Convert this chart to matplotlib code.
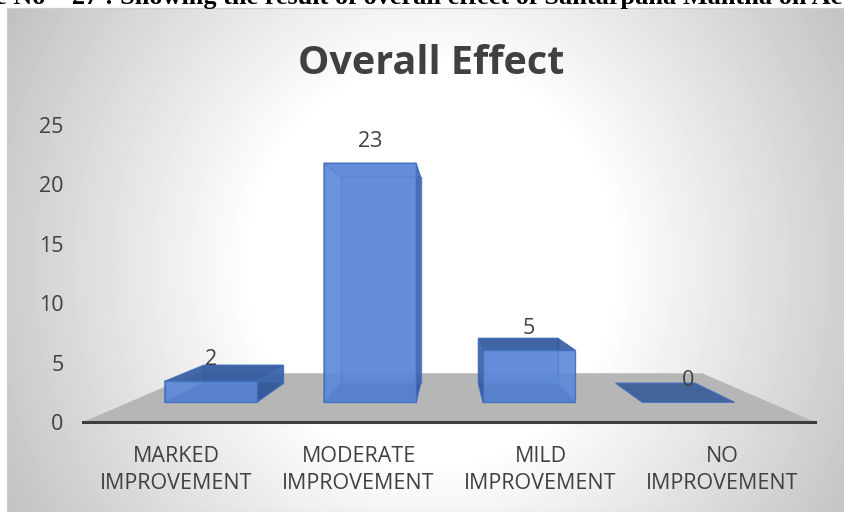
import numpy as np
import matplotlib
matplotlib.use("Agg")
import matplotlib.pyplot as plt
from matplotlib.patches import Polygon

categories = ["MARKED\nIMPROVEMENT", "MODERATE\nIMPROVEMENT", "MILD\nIMPROVEMENT", "NO\nIMPROVEMENT"]
values = [2, 23, 5, 0]
y_ticks = [0, 5, 10, 15, 20, 25]
title = "Overall Effect"
caption = "e No \u2013 27 : Showing the result of overall effect of Santarpana Mantha on Ac"

W, H = 844, 512
TEXT = "#404040"
plt.rcParams["font.family"] = ["Open Sans", "DejaVu Sans"]
fig = plt.figure(figsize=(W / 100, H / 100), dpi=100, facecolor="white")

# background panel with radial gradient
bg = fig.add_axes([7 / W, 0, 837 / W, 504 / H], zorder=0)
gy, gx = np.mgrid[8:512, 7:844]
r = np.sqrt(((gx - 432) / 520.0) ** 2 + ((gy - 265) / 560.0) ** 2)
shade = 1 - np.clip((r - 0.35) / 0.65, 0, 1) * 0.27
bg.imshow(shade, cmap="gray", vmin=0, vmax=1, aspect="auto", interpolation="bilinear")
bg.set_xticks([])
bg.set_yticks([])
for s in bg.spines.values():
    s.set_color("#cfcfcf")
    s.set_linewidth(0.9)

fig.text(431 / W, 1 - 64 / H, title, ha="center", va="center", fontsize=28.5,
         fontweight="bold", color=TEXT)
fig.text(-5 / W, 1 - 4 / H, caption, ha="left", va="baseline", fontsize=18.9,
         fontweight="bold", family=["Liberation Serif"], color="black")

ax = fig.add_axes([83 / W, (H - 422) / H, 732 / W, 297 / H], zorder=1)
ax.patch.set_alpha(0)
px_per_cat = 182.0
ax.set_xlim((83 - 176.5) / px_per_cat, (815 - 176.5) / px_per_cat)
ax.set_ylim(0, 25)

VX, VY = 1.5, 13.28      # vanishing point in data units
S_FRONT, S_BACK, S_FLOOR = 0.875, 0.754, 0.691
BAR_W = 0.578


def proj(c, v, s):
    return (VX + (c - VX) * s, VY + (v - VY) * s)


# floor
x0, x1 = ax.get_xlim()
ax.add_patch(Polygon([proj(x0, 0, 1), proj(x1, 0, 1), proj(x1, 0, S_FLOOR), proj(x0, 0, S_FLOOR)],
                     fc="#b6b6b6", ec="none", zorder=1))


def quad(pts, fc, alpha, z):
    ax.add_patch(Polygon(pts, closed=True, fc=fc, ec="#3f6dbc", lw=1.0, alpha=alpha, zorder=z))


for i, v in enumerate(values):
    l, r_ = i - BAR_W / 2, i + BAR_W / 2
    fbl, fbr = proj(l, 0, S_FRONT), proj(r_, 0, S_FRONT)
    ftl, ftr = proj(l, v, S_FRONT), proj(r_, v, S_FRONT)
    bbl, bbr = proj(l, 0, S_BACK), proj(r_, 0, S_BACK)
    btl, btr = proj(l, v, S_BACK), proj(r_, v, S_BACK)
    quad([fbl, fbr, bbr, bbl], "#2f5597", 0.85, 2)      # bottom
    if v > 0:
        quad([bbl, bbr, btr, btl], "#4472c4", 0.75, 3)  # back
        quad([fbl, ftl, btl, bbl], "#2f5597" if i >= 2 else "#4472c4", 0.6, 4)  # left
        quad([fbr, ftr, btr, bbr], "#2f5597" if i < 2 else "#4472c4", 0.6, 4)   # right
        quad([ftl, ftr, btr, btl], "#2f5597" if v < 10 else "#4472c4", 0.75, 5)  # top
        quad([fbl, fbr, ftr, ftl], "#5f8cdc", 0.75, 6)  # front
    ax.annotate(str(v), proj(i, v, S_FRONT), xytext=(0, 22), textcoords="offset pixels",
                ha="center", va="center", fontsize=15.5, color=TEXT, zorder=8,
                annotation_clip=False)

ax.set_xticks(range(len(categories)))
ax.set_xticklabels(categories, fontsize=15.5, color=TEXT, linespacing=1.39)
ax.set_yticks(y_ticks)
ax.tick_params(axis="both", length=0)
ax.tick_params(axis="x", pad=17)
ax.tick_params(axis="y", pad=14, labelsize=15.5, labelcolor=TEXT)
for s in ["top", "left", "right"]:
    ax.spines[s].set_visible(False)
ax.spines["bottom"].set_color("#3d3d3d")
ax.spines["bottom"].set_linewidth(2.2)
ax.spines["bottom"].set_zorder(7)

fig.savefig("out.png", dpi=100)
